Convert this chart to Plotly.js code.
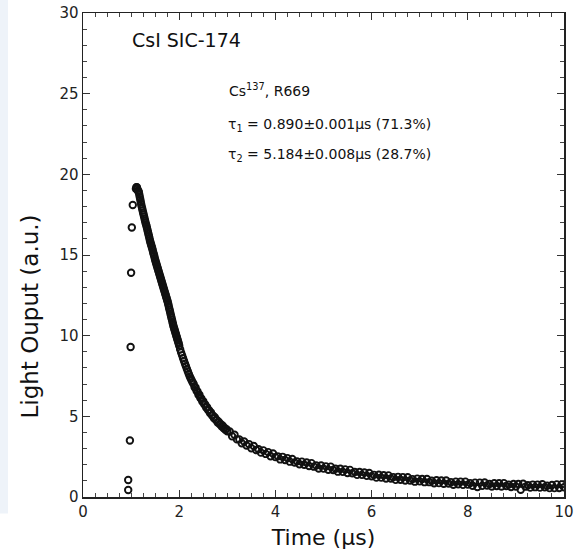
<!DOCTYPE html>
<html>
<head>
<meta charset="utf-8">
<script src="https://cdn.plot.ly/plotly-3.0.1.min.js"></script>
<style>
  html, body { margin: 0; padding: 0; background: #ffffff; }
  #chart { width: 575px; height: 555px; }
</style>
</head>
<body>
<div id="chart"></div>
<script>
// Rising edge samples (µs, a.u.)
const riseTime  = [0.94, 0.94, 0.975, 0.99, 1.00, 1.015, 1.035];
const riseValue = [0.43, 1.05, 3.5, 9.3, 13.9, 16.7, 18.1];

// Decay samples (µs, a.u.)
const decayTime = [
  1.10,1.11,1.12,1.13,1.14,1.15,1.16,1.17,1.18,1.19,1.20,1.21,1.22,1.23,1.24,1.25,
  1.26,1.27,1.28,1.29,1.30,1.31,1.32,1.33,1.34,1.35,1.36,1.37,1.38,1.39,1.40,1.41,
  1.42,1.43,1.44,1.45,1.46,1.47,1.48,1.49,1.50,1.51,1.52,1.53,1.54,1.55,1.56,1.57,
  1.58,1.59,1.60,1.61,1.62,1.63,1.64,1.65,1.66,1.67,1.68,1.69,1.70,1.71,1.72,1.73,
  1.74,1.75,1.76,1.77,1.78,1.79,1.80,1.81,1.82,1.83,1.84,1.85,1.86,1.87,1.88,1.89,
  1.90,1.91,1.92,1.93,1.94,1.95,1.96,1.97,1.98,1.99,2.00,
  2.02,2.04,2.06,2.08,2.10,2.12,2.14,2.16,2.18,2.20,2.22,2.24,2.26,2.28,2.30,2.32,
  2.34,2.36,2.38,2.40,2.42,2.44,2.46,2.48,2.50,2.52,2.54,2.56,2.58,2.60,2.62,2.64,
  2.66,2.68,2.70,2.72,2.74,2.76,2.78,2.80,2.82,2.84,2.86,2.88,2.90,2.92,2.94,2.96,
  2.98,3.00,
  3.05,3.10,3.15,3.20,3.25,3.30,
  3.35,3.40,3.45,3.50,3.55,3.60,3.65,3.70,3.75,3.80,3.85,3.90,3.95,4.00,4.05,4.10,
  4.15,4.20,4.25,4.30,4.35,4.40,4.45,4.50,4.55,4.60,4.65,4.70,4.75,4.80,4.85,4.90,
  4.95,5.00,5.05,5.10,5.15,5.20,5.25,5.30,5.35,5.40,5.45,5.50,5.55,5.60,5.65,5.70,
  5.75,5.80,5.85,5.90,5.95,6.00,6.05,6.10,6.15,6.20,6.25,6.30,6.35,6.40,6.45,6.50,
  6.55,6.60,6.65,6.70,6.75,6.80,6.85,6.90,6.95,7.00,7.05,7.10,7.15,7.20,7.25,7.30,
  7.35,7.40,7.45,7.50,7.55,7.60,7.65,7.70,7.75,7.80,7.85,7.90,7.95,8.00,8.05,8.10,
  8.15,8.20,8.25,8.30,8.35,8.40,8.45,8.50,8.55,8.60,8.65,8.70,8.75,8.80,8.85,8.90,
  8.95,9.00,9.05,9.10,9.15,9.20,9.25,9.30,9.35,9.40,9.45,9.50,9.55,9.60,9.65,9.70,
  9.75,9.80,9.85,9.90,9.95,10.00
];
const decayValue = [
  19.1,19.2,19.2,19.1,19.0,18.95,18.9,18.75,18.6,18.45,18.3,18.15,18.0,17.88,17.75,17.62,
  17.5,17.38,17.25,17.12,17.0,16.9,16.8,16.68,16.55,16.42,16.3,16.18,16.05,15.92,15.8,15.7,
  15.6,15.5,15.4,15.28,15.15,15.05,14.95,14.82,14.7,14.6,14.5,14.4,14.3,14.2,14.1,14.0,
  13.9,13.8,13.7,13.6,13.5,13.4,13.3,13.2,13.1,13.0,12.9,12.8,12.7,12.6,12.5,12.4,
  12.3,12.2,12.1,11.98,11.85,11.72,11.6,11.48,11.35,11.22,11.1,10.98,10.85,10.72,10.6,10.5,
  10.4,10.3,10.2,10.1,10.0,9.9,9.8,9.7,9.6,9.5,9.38,
  9.15,8.95,8.78,8.60,8.43,8.26,8.10,7.94,7.78,7.62,7.47,7.34,7.22,7.10,7.01,6.80,
  6.79,6.58,6.54,6.34,6.34,6.14,6.11,5.92,5.93,5.75,5.73,5.55,5.57,5.39,5.38,5.21,
  5.24,5.07,5.06,4.90,4.94,4.78,4.78,4.62,4.67,4.52,4.53,4.38,4.43,4.28,4.30,4.16,
  4.21,4.07,
  4.06,3.76,3.86,3.57,3.57,3.33,
  3.44,3.19,3.28,3.02,3.16,2.91,2.96,2.75,2.89,2.67,2.78,2.53,2.70,2.47,2.52,2.33,
  2.49,2.29,2.41,2.19,2.36,2.14,2.21,2.03,2.19,2.00,2.14,1.92,2.10,1.88,1.95,1.77,
  1.95,1.76,1.90,1.69,1.88,1.67,1.75,1.57,1.75,1.56,1.71,1.49,1.68,1.47,1.55,1.37,
  1.55,1.37,1.52,1.31,1.49,1.29,1.37,1.20,1.38,1.20,1.35,1.15,1.34,1.15,1.23,1.06,
  1.25,1.07,1.23,1.02,1.22,1.02,1.11,0.95,1.14,0.97,1.12,0.92,1.12,0.92,1.01,0.85,
  1.04,0.86,1.02,0.82,1.02,0.83,0.92,0.76,0.95,0.79,0.95,0.75,0.95,0.77,0.86,0.70,
  0.89,0.62,0.89,0.69,0.90,0.71,0.81,0.65,0.85,0.68,0.85,0.65,0.86,0.68,0.77,0.62,
  0.81,0.65,0.81,0.45,0.82,0.64,0.73,0.58,0.77,0.61,0.77,0.58,0.79,0.60,0.70,0.55,
  0.74,0.55,0.78,0.56,0.78,0.60
];

// Axis ticks
const xTickVals = [0, 2, 4, 6, 8, 10];
const xTickText = ['0', '2', '4', '6', '8', '10'];
const yTickVals = [0, 5, 10, 15, 20, 25, 30];
const yTickText = ['0', '5', '10', '15', '20', '25', '30'];

const FONT = 'DejaVu Sans, Liberation Sans, Arial, sans-serif';

const trace = {
  type: 'scatter',
  mode: 'markers',
  x: riseTime.concat(decayTime),
  y: riseValue.concat(decayValue),
  marker: {
    symbol: 'circle-open',
    size: 6.5,
    color: '#111111',
    line: { width: 1.9, color: '#111111' }
  },
  hoverinfo: 'x+y',
  showlegend: false
};

const axisCommon = {
  showline: true,
  linecolor: '#222222',
  linewidth: 1.5,
  mirror: 'ticks',
  ticks: 'inside',
  ticklen: 7,
  tickwidth: 1,
  tickcolor: '#333333',
  showgrid: false,
  zeroline: false,
  tickfont: { family: FONT, size: 15, color: '#222222' }
};

const layout = {
  width: 575,
  height: 555,
  margin: { l: 83, r: 11, t: 13, b: 58 },
  paper_bgcolor: '#ffffff',
  plot_bgcolor: '#ffffff',
  font: { family: FONT, color: '#222222' },
  xaxis: Object.assign({}, axisCommon, {
    range: [0, 10],
    tickmode: 'array',
    tickvals: xTickVals,
    ticktext: xTickText,
    minor: { dtick: 0.25, ticks: 'inside', ticklen: 4, tickcolor: '#444444', tickwidth: 1 },
    title: { text: 'Time (μs)', font: { family: FONT, size: 22, color: '#111111' }, standoff: 10 }
  }),
  yaxis: Object.assign({}, axisCommon, {
    range: [0, 30],
    tickmode: 'array',
    tickvals: yTickVals,
    ticktext: yTickText,
    minor: { dtick: 1, ticks: 'inside', ticklen: 4, tickcolor: '#444444', tickwidth: 1 }
  }),
  shapes: [{
    type: 'rect', xref: 'paper', yref: 'paper',
    x0: -0.1726, x1: -0.156, y0: -0.034, y1: 1.03,
    fillcolor: '#eef3f9', line: { width: 0 }, layer: 'below'
  }],
  annotations: [
    { x: -0.110, y: 0.373, xref: 'paper', yref: 'paper', xanchor: 'center', yanchor: 'middle',
      textangle: -90, showarrow: false,
      text: 'Light Ouput (a.u.)', font: { family: FONT, size: 23, color: '#111111' } },
    { x: 0.98, y: 28.3, xref: 'x', yref: 'y', xanchor: 'left', yanchor: 'middle', showarrow: false,
      text: 'CsI SIC-174', font: { family: FONT, size: 19, color: '#111111' } },
    { x: 2.99, y: 25.2, xref: 'x', yref: 'y', xanchor: 'left', yanchor: 'middle', showarrow: false,
      text: 'Cs<sup>137</sup>, R669', font: { family: FONT, size: 14, color: '#111111' } },
    { x: 2.97, y: 23.05, xref: 'x', yref: 'y', xanchor: 'left', yanchor: 'middle', showarrow: false,
      text: 'τ<sub>1</sub> = 0.890±0.001μs (71.3%)', font: { family: FONT, size: 14, color: '#111111' } },
    { x: 2.97, y: 21.2, xref: 'x', yref: 'y', xanchor: 'left', yanchor: 'middle', showarrow: false,
      text: 'τ<sub>2</sub> = 5.184±0.008μs (28.7%)', font: { family: FONT, size: 14, color: '#111111' } }
  ]
};

Plotly.newPlot('chart', [trace], layout, { displayModeBar: false, staticPlot: true });
</script>
</body>
</html>
